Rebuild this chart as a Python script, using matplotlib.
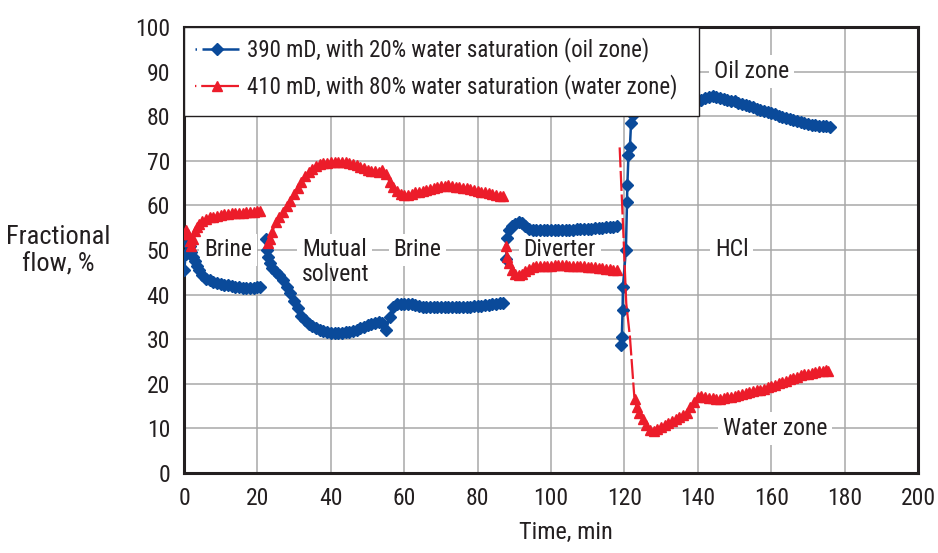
import matplotlib.pyplot as plt
from matplotlib import font_manager
from matplotlib.lines import Line2D
from matplotlib.patches import Rectangle

BLUE = '#0a4a9a'
RED = '#ec1c2a'
INK = '#231f20'


def pick_font():
    # the original uses a condensed face; take one if the box has it
    entries = font_manager.fontManager.ttflist
    names = sorted({f.name for f in entries})
    for n in ['Liberation Sans Narrow', 'Roboto Condensed', 'Open Sans Condensed',
              'Noto Sans Condensed', 'DejaVu Sans Condensed', 'Arial Narrow']:
        if n in names:
            return n, 'normal'
    for n in names:
        if ('Narrow' in n or 'Condensed' in n) and 'Mono' not in n and 'Serif' not in n \
                and 'Extra' not in n and 'Ultra' not in n:
            return n, 'normal'
    for f in entries:
        if f.name in ('Roboto', 'Noto Sans', 'Open Sans', 'DejaVu Sans', 'Lato') \
                and str(f.stretch) in ('condensed', 'semi-condensed'):
            return f.name, str(f.stretch)
    return 'DejaVu Sans', 'normal'


family, stretch = pick_font()
plt.rcParams['font.family'] = [family, 'DejaVu Sans']
plt.rcParams['font.stretch'] = stretch

# --- data (time in min, fractional flow in %) ---
# brine stage 1
time_brine1 = [0, 0.5, 1.0, 1.5, 2.0, 2.5, 3.0, 3.5, 4, 5, 6, 7, 8, 9, 10, 11, 12,
               13, 14, 15, 16, 17, 18, 19, 20, 20.8]
oil_brine1 = [45.5, 49.0, 51.5, 51.0, 49.5, 48.5, 47.5, 46.5, 45.5, 44.3, 43.6, 43.2,
              42.9, 42.6, 42.4, 42.2, 42.1, 41.9, 41.8, 41.6, 41.5, 41.5, 41.4, 41.5,
              41.6, 41.8]
water_brine1 = [53.5, 54.5, 53.5, 52.0, 51.0, 52.5, 54.2, 55.2, 55.8, 56.5, 57.0, 57.3,
                57.5, 57.7, 57.9, 58.0, 58.1, 58.2, 58.3, 58.4, 58.4, 58.5, 58.6, 58.6,
                58.7, 58.7]

# mutual solvent + brine
time_oil_mid = [22.2, 22.5, 22.8, 23.3, 24, 25, 26, 27, 28, 29, 30, 31, 32, 33, 34, 35,
                36, 37, 38, 39, 40, 41, 42, 43, 44, 45, 46, 47, 48, 49, 50, 51, 52, 53,
                54, 55, 56, 57, 58, 59, 60, 61, 62, 63, 64, 65, 66, 67, 68, 69, 70, 71,
                72, 73, 74, 75, 76, 77, 78, 79, 80, 81, 82, 83, 84, 85, 86, 87]
oil_mid = [52.5, 50.0, 48.5, 47.0, 46.0, 45.0, 44.3, 43.2, 41.7, 40.3, 38.6, 37.0, 35.3,
           34.2, 33.5, 33.0, 32.5, 32.1, 31.8, 31.5, 31.4, 31.3, 31.3, 31.4, 31.6, 31.7,
           31.9, 32.1, 32.5, 32.8, 33.1, 33.4, 33.7, 33.9, 33.6, 32.0, 35.0, 37.3, 37.8,
           38.0, 38.0, 38.0, 37.9, 37.6, 37.4, 37.3, 37.3, 37.2, 37.2, 37.2, 37.2, 37.2,
           37.2, 37.2, 37.2, 37.3, 37.3, 37.3, 37.3, 37.4, 37.4, 37.5, 37.6, 37.7, 37.8,
           38.0, 38.1, 38.2]
time_water_mid = [23.0, 23.5, 24, 25, 26, 27, 28, 29, 30, 31, 32, 33, 34, 35, 36, 37,
                  38, 39, 40, 41, 42, 43, 44, 45, 46, 47, 48, 49, 50, 51, 52, 53, 54, 55,
                  56, 57, 58, 59, 60, 61, 62, 63, 64, 65, 66, 67, 68, 69, 70, 71, 72, 73,
                  74, 75, 76, 77, 78, 79, 80, 81, 82, 83, 84, 85, 86, 87]
water_mid = [51.5, 52.5, 54.0, 56.2, 57.3, 58.5, 59.8, 61.0, 62.5, 64.0, 65.3, 66.5, 67.5,
             68.2, 68.8, 69.2, 69.4, 69.6, 69.7, 69.8, 69.8, 69.8, 69.7, 69.5, 69.3, 69.0,
             68.6, 68.3, 68.0, 67.8, 67.6, 67.5, 68.0, 67.0, 65.3, 64.2, 63.3, 62.6, 62.3,
             62.4, 62.6, 62.9, 63.1, 63.3, 63.5, 63.7, 63.9, 64.1, 64.3, 64.4, 64.5, 64.4,
             64.2, 64.1, 64.0, 63.8, 63.6, 63.4, 63.2, 63.0, 62.9, 62.7, 62.5, 62.3, 62.2,
             62.0]

# diverter
time_oil_div = [87.8, 88.0, 88.6, 89.4, 90.3, 91.2, 92, 93, 94, 95, 96, 97, 98, 99, 100,
                101, 102, 103, 104, 105, 106, 107, 108, 109, 110, 111, 112, 113, 114, 115,
                116, 117, 118]
oil_div = [48.0, 52.6, 54.5, 55.3, 55.8, 56.3, 56.0, 55.3, 54.8, 54.5, 54.4, 54.4, 54.4,
           54.4, 54.4, 54.4, 54.4, 54.5, 54.5, 54.5, 54.5, 54.6, 54.6, 54.7, 54.7, 54.8,
           54.9, 55.0, 55.0, 55.1, 55.2, 55.2, 55.3]
time_water_div = [87.6, 88.0, 88.5, 89.3, 90.3, 91.2, 92, 93, 94, 95, 96, 97, 98, 99, 100,
                  101, 102, 103, 104, 105, 106, 107, 108, 109, 110, 111, 112, 113, 114,
                  115, 116, 117, 118]
water_div = [51.0, 48.5, 47.0, 45.5, 44.6, 44.4, 44.7, 45.2, 45.8, 46.2, 46.3, 46.4, 46.5,
             46.5, 46.5, 46.6, 46.6, 46.6, 46.6, 46.5, 46.5, 46.4, 46.4, 46.3, 46.2, 46.2,
             46.1, 46.0, 45.9, 45.8, 45.7, 45.6, 45.4]

# HCl
time_oil_hcl = [119.2, 119.3, 119.5, 119.6, 120.4, 120.7, 120.8, 121.1, 121.5, 121.8,
                122.2, 122.6, 123.2, 124, 126, 128, 130, 132, 134, 136, 138, 140, 141,
                142, 143, 144, 145, 146, 147, 148, 149, 150, 151, 152, 153, 154, 155,
                156, 157, 158, 159, 160, 161, 162, 163, 164, 165, 166, 167, 168, 169,
                170, 171, 172, 173, 174, 175, 176]
oil_hcl = [28.8, 30.6, 36.5, 41.8, 50.0, 60.8, 64.6, 71.3, 73.2, 78.4, 80.3, 81.2, 82.0,
           82.5, 83.0, 83.2, 83.3, 83.3, 83.4, 83.4, 83.5, 83.5, 83.6, 84.0, 84.3, 84.5,
           84.4, 84.1, 83.8, 83.6, 83.4, 83.3, 83.0, 82.8, 82.5, 82.2, 82.0, 81.7, 81.4,
           81.1, 80.9, 80.7, 80.4, 80.1, 79.9, 79.6, 79.4, 79.1, 78.9, 78.7, 78.5, 78.3,
           78.1, 78.0, 77.9, 77.8, 77.7, 77.6]
time_water_drop = [118.7, 119.8, 120.5, 121.5, 122.7]
water_drop = [73.0, 52.0, 38.0, 30.5, 17.0]
time_water_hcl = [122.8, 123.3, 124, 125, 126, 127, 128, 129, 130, 131, 132, 133, 134,
                  135, 136, 137, 138, 139, 140, 141, 142, 143, 144, 145, 146, 147, 148,
                  149, 150, 151, 152, 153, 154, 155, 156, 157, 158, 159, 160, 161, 162,
                  163, 164, 165, 166, 167, 168, 169, 170, 171, 172, 173, 174, 175, 175.5]
water_hcl = [16.5, 14.8, 13.5, 12.2, 10.8, 9.6, 9.4, 9.9, 10.4, 10.8, 11.2, 11.6, 12.0,
             12.5, 13.0, 13.5, 14.8, 16.0, 17.0, 17.2, 17.1, 16.9, 16.7, 16.5, 16.6, 16.8,
             17.0, 17.1, 17.3, 17.5, 17.7, 17.9, 18.1, 18.3, 18.5, 18.7, 18.9, 19.2, 19.5,
             19.8, 20.1, 20.4, 20.7, 21.0, 21.3, 21.6, 21.9, 22.1, 22.3, 22.5, 22.6, 22.8,
             22.9, 23.0, 22.8]

series_names = ['390 mD, with 20% water saturation (oil zone)',
                '410 mD, with 80% water saturation (water zone)']
stage_names = ['Brine', 'Mutual', 'solvent', 'Brine', 'Diverter', 'HCl', 'Oil zone', 'Water zone']

DPI = 100
fig = plt.figure(figsize=(9.38, 5.53), dpi=DPI)
ax = fig.add_axes([0.1962, 0.1447, 0.7825, 0.8065])

# shrink all text so the legend line is as wide as in the original (~403 px)
renderer = fig.canvas.get_renderer()
probe = fig.text(0, 0, series_names[0], fontsize=16.5)
probe_box = probe.get_window_extent(renderer)
probe.remove()
scale = min(1.0, 403.0 / probe_box.width)
fs_tick = 17 * scale
fs_leg = 16.5 * scale
fs_ylab = 19 * scale

oil_segments = [(time_brine1, oil_brine1), (time_oil_mid, oil_mid),
                (time_oil_div, oil_div), (time_oil_hcl, oil_hcl)]
water_segments = [(time_brine1, water_brine1), (time_water_mid, water_mid),
                  (time_water_div, water_div), (time_water_hcl, water_hcl)]

for t, v in oil_segments:
    ax.plot(t, v, color=BLUE, lw=1.8, marker='D', ms=6.3, mec=BLUE, zorder=3)
for t, v in water_segments:
    ax.plot(t, v, color=RED, lw=1.6, marker='^', ms=6.8, mec=RED, zorder=3)
ax.plot(time_water_drop, water_drop, color=RED, lw=1.6, ls=(0, (9, 1.6)), zorder=3)

ax.set_xlim(0, 200)
ax.set_ylim(0, 100)
ax.set_xticks(range(0, 201, 20))
ax.set_yticks(range(0, 101, 10))
ax.grid(color='#a8a8a8', lw=1.1)
ax.set_axisbelow(True)
ax.tick_params(length=0, pad=10, labelsize=fs_tick, colors=INK)
for sp in ax.spines.values():
    sp.set_linewidth(2.2)
    sp.set_color(INK)

box = dict(boxstyle='square,pad=0.2', fc='white', ec='none')
kw = dict(fontsize=fs_tick, color=INK, zorder=2.5)
ax.text(12, 50, stage_names[0], ha='center', va='center', bbox=box, **kw)
ax.text(32.2, 50, stage_names[1], ha='left', va='center', bbox=box, **kw)
ax.text(32.2, 44.5, stage_names[2], ha='left', va='center', **kw)
ax.text(63.6, 50, stage_names[3], ha='center', va='center', bbox=box, **kw)
ax.text(102.4, 50, stage_names[4], ha='center', va='center', bbox=box, **kw)
ax.text(149.2, 50, stage_names[5], ha='center', va='center', bbox=box, **kw)
ax.text(154.7, 90, stage_names[6], ha='center', va='center', bbox=box, **kw)
ax.text(161, 10, stage_names[7], ha='center', va='center', bbox=box, **kw)

ax.text(-0.172, 0.498, 'Fractional\nflow, %', transform=ax.transAxes,
        ha='center', va='center', fontsize=fs_ylab, color=INK, linespacing=1.2)
ax.set_xlabel('Time, min', fontsize=fs_tick * 1.03, color=INK)
ax.xaxis.set_label_coords(0.5204, -0.1345)
ax.xaxis.label.set_va('center')

# legend sits in a white box covering the top-left of the grid
ax.add_patch(Rectangle((0, 0.8), 0.702, 0.2, transform=ax.transAxes,
                       fc='white', ec=INK, lw=1, zorder=4))
fs_px = fs_leg * DPI / 72.0
row_h = probe_box.height * scale
handles = [Line2D([], [], color=BLUE, lw=1.8, marker='D', ms=6.3, ls=(0, (0.6, 2.2, 40, 0.1))),
           Line2D([], [], color=RED, lw=1.6, marker='^', ms=6.8, ls=(0, (0.6, 2.2, 40, 0.1)))]
leg = ax.legend(handles, series_names, loc='upper left', bbox_to_anchor=(0, 1),
                borderaxespad=0, frameon=False, fontsize=fs_leg,
                handlelength=44 / fs_px, handletextpad=8 / fs_px,
                labelspacing=max(0.1, (37 - row_h) / fs_px),
                borderpad=max(0.1, (23 - row_h / 2) / fs_px))
leg.set_zorder(5)
for txt in leg.get_texts():
    txt.set_color(INK)

fig.savefig('out.png', dpi=DPI)
